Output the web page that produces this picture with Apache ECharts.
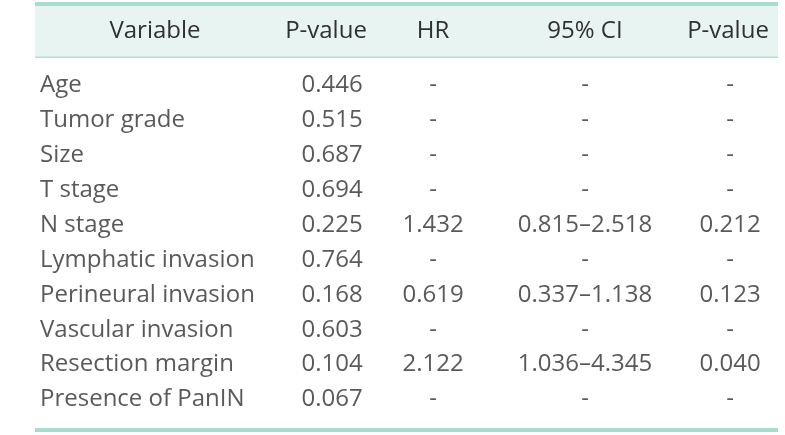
<!DOCTYPE html>
<html>
<head>
<meta charset="utf-8">
<script src="https://cdn.jsdelivr.net/npm/echarts@6/dist/echarts.min.js"></script>
<style>html,body{margin:0;padding:0;background:#fff;}#c{width:785px;height:435px;}</style>
</head>
<body>
<div id="c"></div>
<script>
// ---- data ----
var headers = ['Variable', 'P-value', 'HR', '95% CI', 'P-value'];
var variables = ['Age', 'Tumor grade', 'Size', 'T stage', 'N stage', 'Lymphatic invasion',
  'Perineural invasion', 'Vascular invasion', 'Resection margin', 'Presence of PanIN'];
var univariateP = ['0.446', '0.515', '0.687', '0.694', '0.225', '0.764', '0.168', '0.603', '0.104', '0.067'];
var hr = ['-', '-', '-', '-', '1.432', '-', '0.619', '-', '2.122', '-'];
var ci95 = ['-', '-', '-', '-', '0.815\u20132.518', '-', '0.337\u20131.138', '-', '1.036\u20134.345', '-'];
var multivariateP = ['-', '-', '-', '-', '0.212', '-', '0.123', '-', '0.040', '-'];

// ---- layout ----
var W = 785, H = 435;
var tableL = 35, tableR = 778;
var colX = [40, 332, 433, 585, 730];
var headerX = [155, 326, 433, 585, 728];
var headerY = 31.5;
var font = '"Open Sans", sans-serif';
var fontSize = 24;
var textColor = '#303030';

var columns = [variables, univariateP, hr, ci95, multivariateP];

var chart = echarts.init(document.getElementById('c'), null, {renderer: 'canvas'});

var series = columns.map(function (col, c) {
  return {
    type: 'scatter',
    symbolSize: 0,
    silent: true,
    data: col.map(function (txt, i) {
      return {name: txt, value: [colX[c], variables[i]]};
    }),
    label: {
      show: true,
      position: 'inside',
      formatter: '{b}',
      align: c === 0 ? 'left' : 'center',
      verticalAlign: 'middle',
      fontFamily: font,
      fontSize: fontSize,
      color: textColor
    }
  };
});

var graphics = [
  {type: 'rect', shape: {x: tableL, y: 5, width: tableR - tableL, height: 52}, style: {fill: '#e7f4f1'}},
  {type: 'rect', shape: {x: tableL, y: 2, width: tableR - tableL, height: 4}, style: {fill: '#a8dccf'}},
  {type: 'rect', shape: {x: tableL, y: 56.5, width: tableR - tableL, height: 1.5}, style: {fill: '#b4e1d6'}},
  {type: 'rect', shape: {x: tableL, y: 428, width: tableR - tableL, height: 4}, style: {fill: '#a8dccf'}}
];
headers.forEach(function (h, c) {
  graphics.push({
    type: 'text',
    x: headerX[c], y: headerY,
    style: {text: h, fill: textColor, font: fontSize + 'px ' + font, textAlign: 'center', textVerticalAlign: 'middle'}
  });
});

chart.setOption({
  animation: false,
  grid: {left: 0, right: 0, top: 68, bottom: 435 - 417},
  xAxis: {type: 'value', min: 0, max: W, show: false},
  yAxis: {type: 'category', data: variables, inverse: true, show: false},
  series: series,
  graphic: graphics
});
</script>
</body>
</html>
